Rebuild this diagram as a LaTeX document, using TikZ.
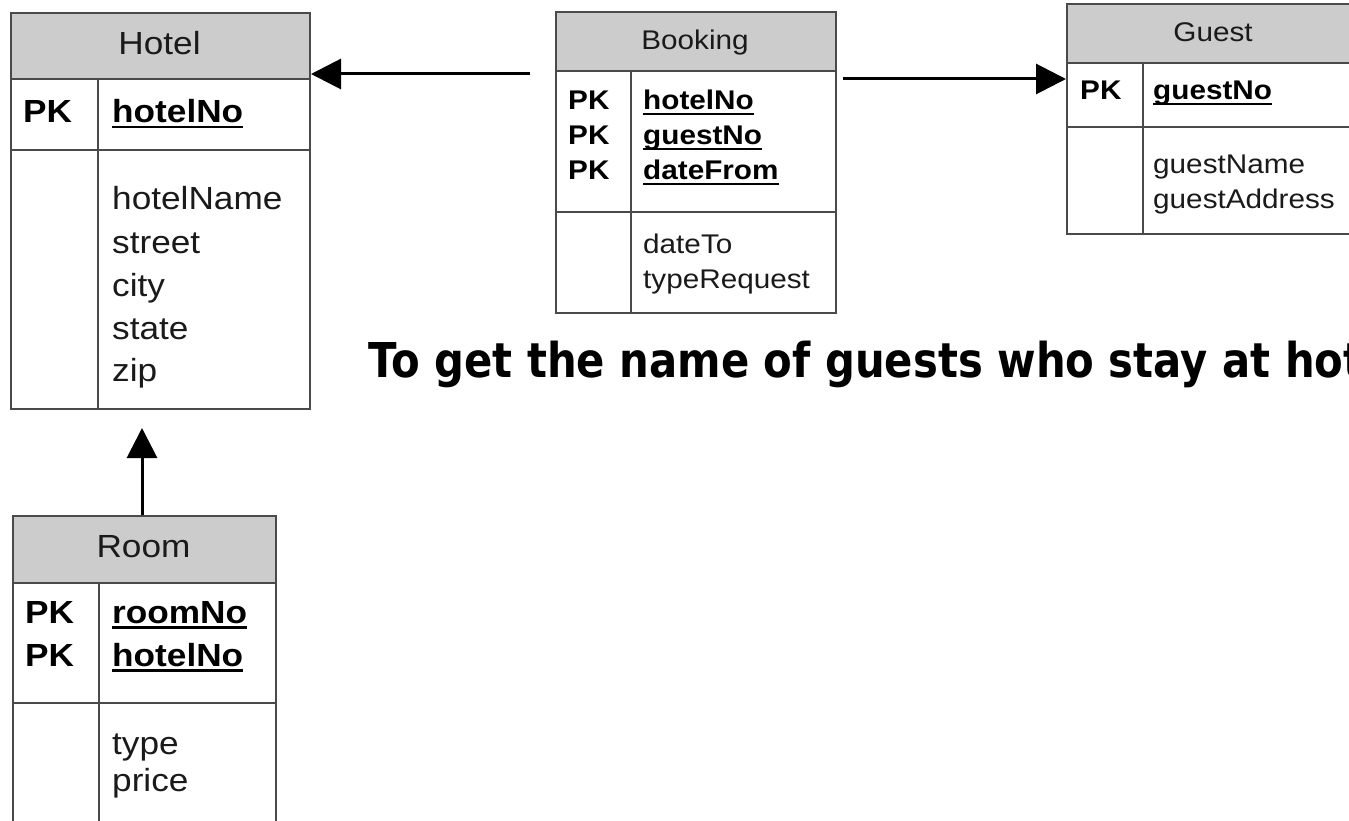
\documentclass[tikz,border=0pt]{standalone}
\usepackage{fontspec}
\setmainfont[FakeStretch=1.1]{Liberation Sans}
\newfontfamily\capfont[FakeStretch=0.87]{DejaVu Sans}
\usetikzlibrary{arrows.meta}
\definecolor{tblline}{HTML}{4A4A4A}
\definecolor{hdrgray}{HTML}{CCCCCC}
\definecolor{txt}{HTML}{1A1A1A}
% underlined key attribute
\newcommand\keyname[1]{\setbox0\hbox{#1}\rlap{\rule[-5.5pt]{\wd0}{2.6pt}}\box0}
\begin{document}
\begin{tikzpicture}[x=1pt,y=-1pt,
  tbl/.style={draw=tblline,line width=2pt,inner sep=0pt,anchor=north west},
  rule/.style={draw=tblline,line width=2pt},
  hdr/.style={fill=hdrgray},
  big/.style={font=\fontsize{32}{38}\selectfont,text=txt,inner sep=0pt,anchor=base west},
  small/.style={font=\fontsize{27}{32}\selectfont,text=txt,inner sep=0pt,anchor=base west},
  bigkey/.style={big,font=\fontsize{32}{38}\selectfont\bfseries,text=black},
  smallkey/.style={small,font=\fontsize{27}{32}\selectfont\bfseries,text=black},
  link/.style={line width=3pt,-{Triangle[length=30pt,width=30pt]}}]
\useasboundingbox (0,0) rectangle (1349,821);
\clip (0,0) rectangle (1349,821);

% ---------- Hotel ----------
\fill[hdr] (10,12) rectangle (309,79);
\node[tbl,minimum width=299pt,minimum height=396pt] (hotel) at (10,12) {};
\draw[rule] (10,79) -- (309,79);
\draw[rule] (10,150) -- (309,150);
\draw[rule] (98,79) -- (98,408);
\node[big,anchor=base] (hotelT) at (159.5,55) {Hotel};
\node[bigkey] (hotelPK) at (23,123) {PK};
\node[bigkey] (hotelK) at (112,123) {\keyname{hotelNo}};
\node[big] (hotelA1) at (112,210) {hotelName};
\node[big] (hotelA2) at (112,253) {street};
\node[big] (hotelA3) at (112,296) {city};
\node[big] (hotelA4) at (112,339) {state};
\node[big] (hotelA5) at (112,381) {zip};

% ---------- Booking ----------
\fill[hdr] (555,11) rectangle (835,71);
\node[tbl,minimum width=280pt,minimum height=301pt] (booking) at (555,11) {};
\draw[rule] (555,71) -- (835,71);
\draw[rule] (555,212) -- (835,212);
\draw[rule] (631,71) -- (631,312);
\node[small,anchor=base] (bookingT) at (695,50) {Booking};
\node[smallkey] (bookingPK1) at (568,110) {PK};
\node[smallkey] (bookingPK2) at (568,145) {PK};
\node[smallkey] (bookingPK3) at (568,180) {PK};
\node[smallkey] (bookingK1) at (643,110) {\keyname{hotelNo}};
\node[smallkey] (bookingK2) at (643,145) {\keyname{guestNo}};
\node[smallkey] (bookingK3) at (643,180) {\keyname{dateFrom}};
\node[small] (bookingA1) at (643,253) {dateTo};
\node[small] (bookingA2) at (643,288) {typeRequest};

% ---------- Guest ----------
\fill[hdr] (1066,3) rectangle (1360,63);
\node[tbl,minimum width=294pt,minimum height=230pt] (guest) at (1066,3) {};
\draw[rule] (1066,63) -- (1360,63);
\draw[rule] (1066,127) -- (1360,127);
\draw[rule] (1143,63) -- (1143,233);
\node[small,anchor=base] (guestT) at (1213,42) {Guest};
\node[smallkey] (guestPK) at (1080,100) {PK};
\node[smallkey] (guestK) at (1153,100) {\keyname{guestNo}};
\node[small] (guestA1) at (1153,174) {guestName};
\node[small] (guestA2) at (1153,209) {guestAddress};

% ---------- Room ----------
\fill[hdr] (12,515) rectangle (275,583);
\node[tbl,minimum width=263pt,minimum height=330pt] (room) at (12,515) {};
\draw[rule] (12,583) -- (275,583);
\draw[rule] (12,703) -- (275,703);
\draw[rule] (99,583) -- (99,845);
\node[big,anchor=base] (roomT) at (143.5,557) {Room};
\node[bigkey] (roomPK1) at (25,623) {PK};
\node[bigkey] (roomPK2) at (25,666) {PK};
\node[bigkey] (roomK1) at (112,623) {\keyname{roomNo}};
\node[bigkey] (roomK2) at (112,666) {\keyname{hotelNo}};
\node[big] (roomA1) at (112,754) {type};
\node[big] (roomA2) at (112,791) {price};

% ---------- references ----------
\coordinate (bookingOutL) at (530,74);
\coordinate (bookingOutR) at (843,79);
\coordinate (hotelIn) at (142,428);
\draw[link] (bookingOutL) -- (hotel.east |- bookingOutL);
\draw[link] (bookingOutR) -- (guest.west |- bookingOutR);
\draw[link] (room.north -| hotelIn) -- (hotelIn);

% ---------- caption ----------
\node[font=\capfont\bfseries\fontsize{48}{54}\selectfont,inner sep=0pt,anchor=base west]
  (query) at (368,377) {To get the name of guests who stay at hot};
\end{tikzpicture}
\end{document}
